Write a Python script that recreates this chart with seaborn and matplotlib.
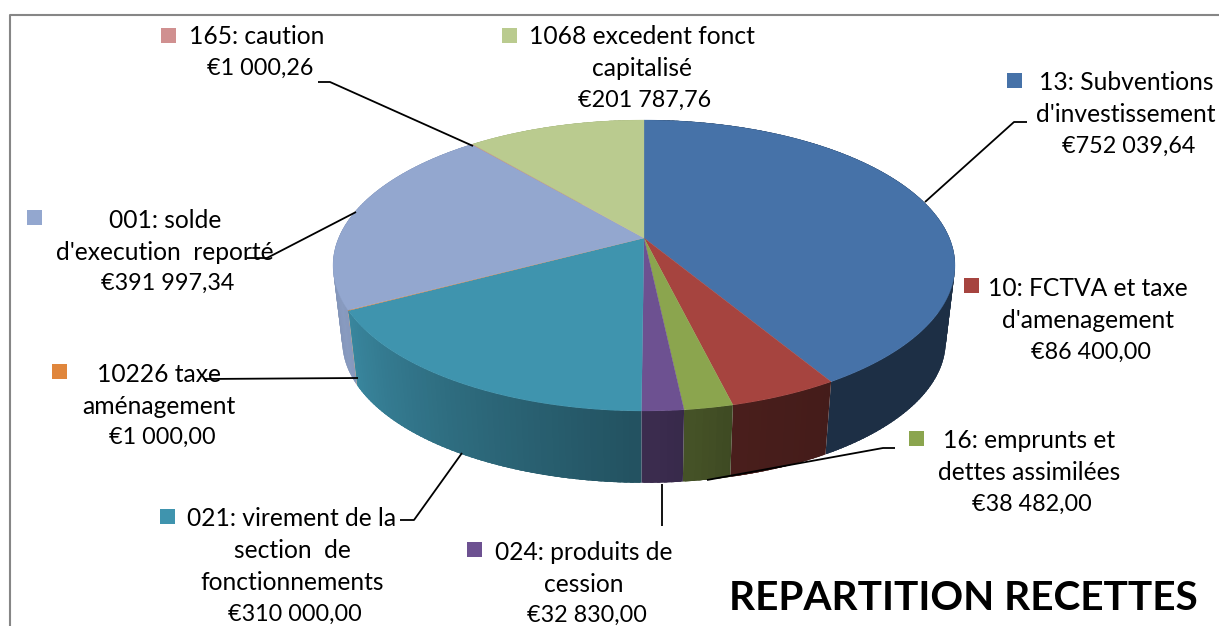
import numpy as np
import seaborn as sns
import matplotlib
matplotlib.use('Agg')
import matplotlib.pyplot as plt

# pie data, clockwise from 12 o'clock
categories = ["13: Subventions\nd'investissement", "10: FCTVA et taxe\nd'amenagement",
              "16: emprunts et\ndettes assimilées", "024: produits de\ncession",
              "021: virement de la\nsection  de\nfonctionnements", "10226 taxe\naménagement",
              "001: solde\nd'execution  reporté", "165: caution", "1068 excedent fonct\ncapitalisé"]
values = [752039.64, 86400.00, 38482.00, 32830.00, 310000.00, 1000.00, 391997.34, 1000.26, 201787.76]
colors = ['#4672A8', '#A6443F', '#8BA54E', '#6D5191', '#3F94AE', '#E0863C', '#93A7CF', '#D09090', '#BACB8F']

sns.set_theme(style='white')
plt.rcParams['font.family'] = ['Lato', 'DejaVu Sans']
palette = sns.color_palette(colors)

# label layout in pixels: text centre x, first line y, key centre x, key centre y
label_pos = [(1126, 83, 1014.5, 80.5), (1088, 289, 971.5, 285.5), (1029, 441, 916.5, 438.5),
             (584, 552, 474.5, 549.5), (292, 519, 167.5, 516.5), (159, 374, 59.5, 371.5),
             (165, 220, 34.5, 217.5), (257, 37, 168.5, 35.5), (642, 37, 509.5, 35.5)]
leaders = [[(1027, 122), (1014, 122), (925, 202)], [(895, 448), (883, 448), (707, 480)],
           [(662, 484), (662, 526)], [(400, 520), (414, 520), (462, 453)],
           [(205, 379), (358, 378)], [(247, 258), (267, 258), (356, 212)],
           [(318, 82), (330, 82), (473, 146)]]

fig, ax = plt.subplots(figsize=(12.19, 6.26), dpi=100)
ax.set_position([0, 0, 1, 1])
ax.set_xlim(0, 1219)
ax.set_ylim(626, 0)
ax.axis('off')


def project(theta, scale=1.0, cy=238):
    # theta in degrees clockwise from the back of the pie, perspective tilt
    t = np.radians(theta)
    w = 1 + 0.189 * np.cos(t)
    return 644 + scale * 305.4 * np.sin(t) / w, cy - scale * 140.3 * np.cos(t) / w


def shade(theta):
    return np.interp(theta, [0, 150, 166, 180, 245, 265, 360], [.41, .41, .44, .55, .93, .85, .85])


edges = np.concatenate([[0], np.cumsum(values)]) / np.sum(values) * 360

# side wall first, back to front. each strip overlaps the next so no seams show
quads = []
for i, col in enumerate(palette):
    n = max(2, int((edges[i + 1] - edges[i]) / 1.0) + 1)
    th = np.linspace(edges[i], edges[i + 1], n)
    for a, b in zip(th[:-1], th[1:]):
        b2 = min(b + 0.8, edges[i + 1])
        a2 = max(a - 0.8, edges[i])
        x0, y0 = project(a2)
        x1, y1 = project(b2)
        x2, y2 = project(b2, 0.97, 315)
        x3, y3 = project(a2, 0.97, 315)
        c = np.array(col) * shade((a + b) / 2)
        quads.append((max(y2, y3), [x0, x1, x2, x3], [y0, y1, y2, y3], c))
for _, xs, ys, c in sorted(quads, key=lambda q: q[0]):
    ax.fill(xs, ys, color=c, lw=0, zorder=2)

# top face
for i, col in enumerate(palette):
    th = np.linspace(edges[i], edges[i + 1], max(2, int(edges[i + 1] - edges[i]) * 2))
    xs, ys = project(th)
    ax.fill(np.r_[644, xs], np.r_[238, ys], color=col, lw=0.2, zorder=3)

# frame
ax.plot([10, 10, 1219], [626, 15, 15], color='#868686', lw=1.5, zorder=1)

for pts in leaders:
    ax.plot(*zip(*pts), color='black', lw=1.3, zorder=4, solid_capstyle='butt')

# legend keys
sns.scatterplot(x=[p[2] for p in label_pos], y=[p[3] for p in label_pos], hue=categories,
                palette=colors, marker='s', s=118, linewidth=0, legend=False, ax=ax, zorder=5)
ax.set_xlim(0, 1219)
ax.set_ylim(626, 0)
ax.axis('off')

# labels
for cat, val, (cx, y, _, _) in zip(categories, values, label_pos):
    lines = cat.split('\n')
    for j, line in enumerate(lines):
        ax.text(cx, y + j * 32, line, ha='center', va='center', fontsize=17.7, color='black', zorder=6)
    money = '€' + f'{val:,.2f}'.replace(',', ' ').replace('.', ',')
    ax.text(cx + 3, y + len(lines) * 32 - 1, money, ha='center', va='center', fontsize=16.8,
            color='black', zorder=6)

ax.text(963, 599, 'REPARTITION RECETTES', ha='center', va='center', fontsize=29.2,
        fontweight='bold', color='black', zorder=6)

fig.savefig('out.png', dpi=100)
